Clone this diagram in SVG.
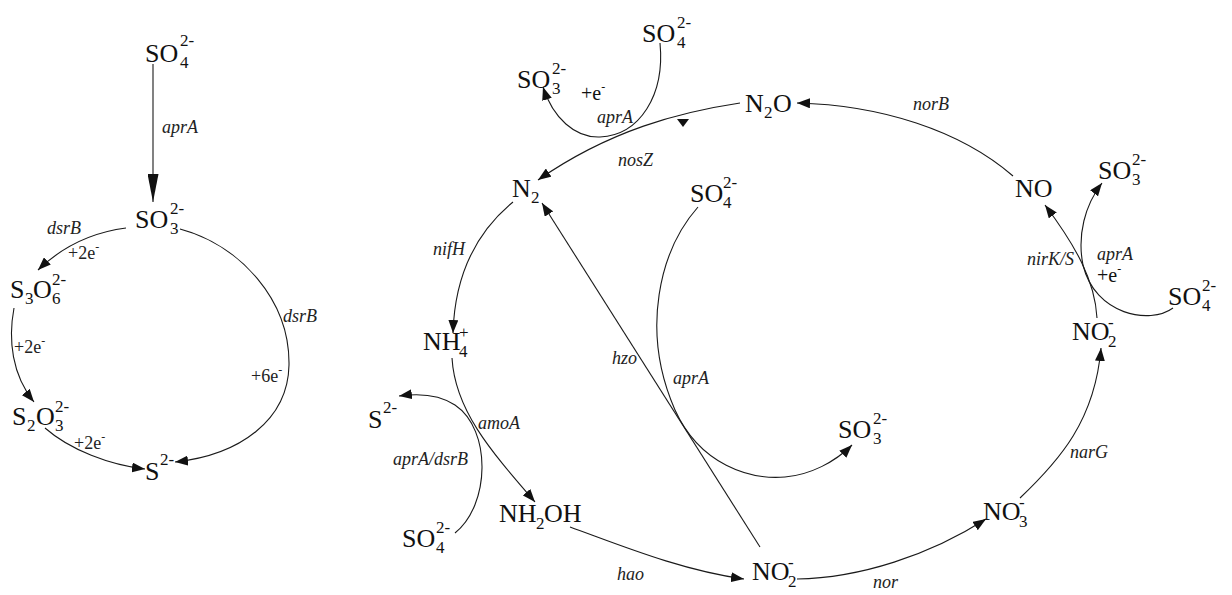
<svg xmlns="http://www.w3.org/2000/svg" width="1232" height="595" viewBox="0 0 1232 595">
<style>
.m{font-family:"Liberation Serif","Times New Roman",serif;font-size:26px;fill:#111}
.s{font-family:"Liberation Serif","Times New Roman",serif;font-size:17px;fill:#111}
.l{font-family:"Liberation Serif","Times New Roman",serif;font-size:18px;font-style:italic;fill:#222}
.e{font-family:"Liberation Serif","Times New Roman",serif;font-size:18px;fill:#222}
.e2{font-family:"Liberation Serif","Times New Roman",serif;font-size:20px;fill:#111}
.sp{font-size:12px}
.c{fill:none;stroke:#1a1a1a;stroke-width:1.1}
</style>
<defs>
<marker id="ah" markerUnits="userSpaceOnUse" markerWidth="13" markerHeight="10" refX="13" refY="5" orient="auto"><path d="M0,0 L13,5 L0,10 z" fill="#111"/></marker>
<marker id="big" markerUnits="userSpaceOnUse" markerWidth="28" markerHeight="11" refX="28" refY="5.5" orient="auto"><path d="M0,0 L28,5.5 L0,11 z" fill="#111"/></marker>
</defs>
<rect width="1232" height="595" fill="#fff"/>
<g id="connectors">
<path class="c" d="M153,64 L153,202" marker-end="url(#big)"/>
<path class="c" d="M126,228 C95,232 64,245 38,270" marker-end="url(#ah)"/>
<path class="c" d="M14,308 C8,340 12,375 34,402" marker-end="url(#ah)"/>
<path class="c" d="M45,428 C70,450 110,465 145,469" marker-end="url(#ah)"/>
<path class="c" d="M180,229 C240,245 290,300 289,365 C288,420 240,455 175,462" marker-end="url(#ah)"/>
<path class="c" d="M1013,176 C960,130 880,105 797,103" marker-end="url(#ah)"/>
<path class="c" d="M740,103 C680,112 610,130 538,180" marker-end="url(#ah)"/>
<polygon points="677,119 689,119 683,127" fill="#111"/>
<path class="c" d="M513,202 C485,225 455,265 453,333" marker-end="url(#ah)"/>
<path class="c" d="M452,358 C455,410 490,450 535,502" marker-end="url(#ah)"/>
<path class="c" d="M570,527 C620,545 680,570 744,579" marker-end="url(#ah)"/>
<path class="c" d="M797,579 C860,578 930,555 986,519" marker-end="url(#ah)"/>
<path class="c" d="M1020,498 C1060,460 1095,420 1101,348" marker-end="url(#ah)"/>
<path class="c" d="M1097,318 C1095,280 1075,245 1045,205" marker-end="url(#ah)"/>
<path class="c" d="M760,547 L542,203" marker-end="url(#ah)"/>
<path class="c" d="M660,43 C665,95 640,135 600,137 C575,138 553,118 543,87" marker-end="url(#ah)"/>
<path class="c" d="M1173,308 C1150,325 1095,315 1083,265 C1077,235 1085,205 1102,183" marker-end="url(#ah)"/>
<path class="c" d="M698,207 C660,250 640,330 675,410 C700,465 750,480 785,477 C810,475 835,462 852,445" marker-end="url(#ah)"/>
<path class="c" d="M455,533 C490,505 492,430 455,405 C440,395 420,393 399,396" marker-end="url(#ah)"/>
</g>
<g id="labels">
<text class="l" x="162" y="133">aprA</text>
<text class="l" x="47" y="234">dsrB</text>
<text class="l" x="283" y="322">dsrB</text>
<text class="e" x="68" y="259">+2e<tspan class="sp" dy="-8">-</tspan></text>
<text class="e" x="14" y="353">+2e<tspan class="sp" dy="-8">-</tspan></text>
<text class="e" x="74" y="449">+2e<tspan class="sp" dy="-8">-</tspan></text>
<text class="e" x="251" y="382">+6e<tspan class="sp" dy="-8">-</tspan></text>
<text class="l" x="913" y="110">norB</text>
<text class="l" x="618" y="166">nosZ</text>
<text class="l" x="597" y="123">aprA</text>
<text class="e2" x="581" y="100">+e<tspan class="sp" dy="-9">-</tspan></text>
<text class="l" x="1027" y="265">nirK/S</text>
<text class="l" x="1097" y="260">aprA</text>
<text class="e2" x="1097" y="282">+e<tspan class="sp" dy="-9">-</tspan></text>
<text class="l" x="1070" y="458">narG</text>
<text class="l" x="873" y="588">nor</text>
<text class="l" x="617" y="580">hao</text>
<text class="l" x="612" y="364">hzo</text>
<text class="l" x="673" y="384">aprA</text>
<text class="l" x="433" y="255">nifH</text>
<text class="l" x="478" y="429">amoA</text>
<text class="l" x="393" y="465">aprA/dsrB</text>
</g>
<g id="n-so4-a"><text class="m" x="145" y="62">SO</text><text class="s" x="180" y="68">4</text><text class="s" x="180" y="46">2-</text></g>
<g id="n-so3-a"><text class="m" x="135" y="228">SO</text><text class="s" x="170" y="234">3</text><text class="s" x="170" y="214">2-</text></g>
<g id="n-s3o6"><text class="m" x="10" y="298">S</text><text class="s" x="25" y="304">3</text><text class="m" x="33" y="298">O</text><text class="s" x="52" y="304">6</text><text class="s" x="52" y="285">2-</text></g>
<g id="n-s2o3"><text class="m" x="12" y="425">S</text><text class="s" x="27" y="431">2</text><text class="m" x="36" y="425">O</text><text class="s" x="55" y="431">3</text><text class="s" x="55" y="412">2-</text></g>
<g id="n-s-a"><text class="m" x="145" y="480">S</text><text class="s" x="160" y="465">2-</text></g>
<g id="n-n2o"><text class="m" x="745" y="112">N</text><text class="s" x="764" y="118">2</text><text class="m" x="773" y="112">O</text></g>
<g id="n-no"><text class="m" x="1015" y="197">NO</text></g>
<g id="n-so3-r"><text class="m" x="1098" y="179">SO</text><text class="s" x="1132" y="185">3</text><text class="s" x="1132" y="165">2-</text></g>
<g id="n-so4-r"><text class="m" x="1168" y="305">SO</text><text class="s" x="1202" y="311">4</text><text class="s" x="1202" y="291">2-</text></g>
<g id="n-no2-r"><text class="m" x="1072" y="340">NO</text><text class="s" x="1108" y="347">2</text><text class="s" x="1108" y="328">-</text></g>
<g id="n-no3"><text class="m" x="983" y="520">NO</text><text class="s" x="1019" y="527">3</text><text class="s" x="1019" y="508">-</text></g>
<g id="n-no2-b"><text class="m" x="752" y="580">NO</text><text class="s" x="788" y="587">2</text><text class="s" x="788" y="568">-</text></g>
<g id="n-nh2oh"><text class="m" x="499" y="522">NH</text><text class="s" x="536" y="529">2</text><text class="m" x="544" y="522">OH</text></g>
<g id="n-nh4"><text class="m" x="423" y="350">NH</text><text class="s" x="459" y="357">4</text><text class="s" x="459" y="338">+</text></g>
<g id="n-s-m"><text class="m" x="368" y="428">S</text><text class="s" x="383" y="413">2-</text></g>
<g id="n-so4-bl"><text class="m" x="402" y="547">SO</text><text class="s" x="436" y="553">4</text><text class="s" x="436" y="533">2-</text></g>
<g id="n-n2"><text class="m" x="512" y="197">N</text><text class="s" x="531" y="203">2</text></g>
<g id="n-so4-t"><text class="m" x="642" y="42">SO</text><text class="s" x="677" y="48">4</text><text class="s" x="677" y="28">2-</text></g>
<g id="n-so3-tl"><text class="m" x="517" y="88">SO</text><text class="s" x="552" y="94">3</text><text class="s" x="552" y="74">2-</text></g>
<g id="n-so4-c"><text class="m" x="690" y="202">SO</text><text class="s" x="723" y="208">4</text><text class="s" x="723" y="188">2-</text></g>
<g id="n-so3-c"><text class="m" x="838" y="438">SO</text><text class="s" x="873" y="444">3</text><text class="s" x="873" y="424">2-</text></g>
</svg>
